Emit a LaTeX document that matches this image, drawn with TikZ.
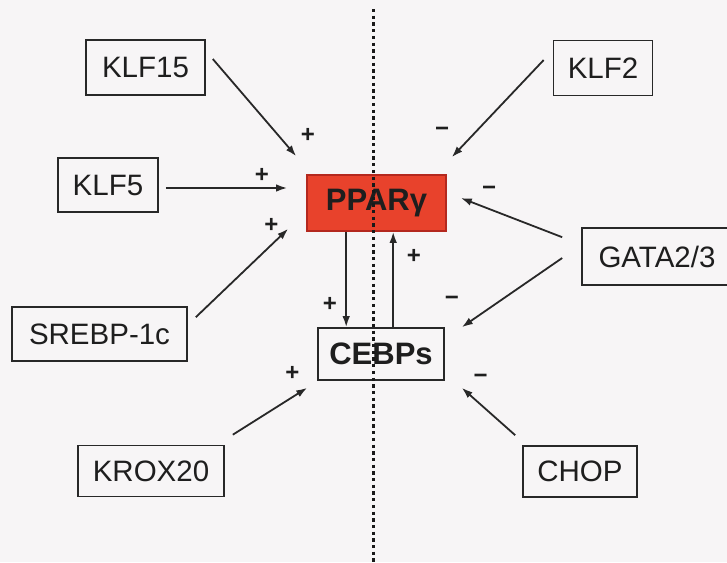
\documentclass[tikz,border=0pt]{standalone}
\usepackage{fontspec}
\setmainfont{Liberation Sans}
\usetikzlibrary{arrows.meta,calc}
\definecolor{bgc}{RGB}{247,245,246}
\definecolor{pparred}{RGB}{232,66,44}
\definecolor{pparedge}{RGB}{180,40,30}
\definecolor{ink}{RGB}{40,40,40}
\definecolor{txt}{RGB}{30,30,30}
\begin{document}
\begin{tikzpicture}[x=1pt,y=-1pt,
  box/.style={draw=ink, line width=1.6pt, inner sep=0pt, text=txt,
    font=\fontsize{29.5}{32}\selectfont},
  keybox/.style={box, font=\fontsize{31}{33}\selectfont\bfseries},
  arr/.style={draw=ink, line width=1.8pt, -{Latex[length=11pt,width=7.5pt]}},
  sign/.style={inner sep=0pt, text=txt, font=\fontsize{24}{26}\selectfont\bfseries},
  dotline/.style={draw=black!90, line width=3.3pt, dash pattern=on 3.3pt off 3.4pt}]
\useasboundingbox[fill=bgc] (0,0) rectangle (727,562);

% nodes
\node[box, minimum width=119pt, minimum height=55pt] (klf15) at (145.5,67.5) {KLF15};
\node[box, minimum width=99pt, minimum height=55pt] (klf2) at (603,68) {KLF2};
\node[box, minimum width=100pt, minimum height=54pt] (klf5) at (108,185) {KLF5};
\node[keybox, fill=pparred, draw=pparedge, minimum width=139pt, minimum height=56pt] (ppar) at (376.5,203) {PPARγ};
\node[box, minimum width=150pt, minimum height=57pt] (gata) at (657,256.5) {GATA2/3};
\node[box, minimum width=175pt, minimum height=54pt] (srebp) at (99.5,334) {SREBP-1c};
\node[keybox, minimum width=126pt, minimum height=52pt] (cebp) at (381,354) {CEBPs};
\node[box, minimum width=146pt, minimum height=51pt] (krox) at (151,471) {KROX20};
\node[box, minimum width=114pt, minimum height=51pt] (chop) at (580,471.5) {CHOP};

% connectors
\draw[arr] ($(klf15.east)+(7,-8.5)$) -- ($(ppar.north west)+(-10,-18)$);
\draw[arr] ($(klf2.west)+(-9,-8)$) -- ($(ppar.north east)+(5,-17)$);
\draw[arr] ($(klf5.east)+(7,3)$) -- ($(ppar.west)+(-19,-15)$);
\draw[arr] ($(srebp.north east)+(8,11)$) -- ($(ppar.south west)+(-18,-3)$);
\draw[arr] ($(gata.north west)+(-19,10)$) -- ($(ppar.east)+(14,-5)$);
\draw[arr] ($(gata.west)+(-19,1.5)$) -- ($(cebp.north east)+(17,0)$);
\draw[arr] ($(ppar.south west)+(40,0)$) -- ($(cebp.north west)+(29,0)$);
\draw[arr] ($(cebp.north west)+(76,0)$) -- ($(ppar.south west)+(87,0)$);
\draw[arr] ($(krox.north east)+(8,-10)$) -- ($(cebp.south west)+(-10,7)$);
\draw[arr] ($(chop.north west)+(-7,-10)$) -- ($(cebp.south east)+(17,7)$);

% signs
\node[sign] (s1) at (308,135) {+};
\node[sign] (s2) at (442,132) {−};
\node[sign] (s3) at (262,175) {+};
\node[sign] (s4) at (489,191) {−};
\node[sign] (s5) at (271.5,225) {+};
\node[sign] (s6) at (414,256) {+};
\node[sign] (s7) at (330,304) {+};
\node[sign] (s8) at (452,301) {−};
\node[sign] (s9) at (292.5,373) {+};
\node[sign] (s10) at (480.5,379) {−};

% dotted divider
\coordinate (dtop) at (373.3,9);
\coordinate (dbot) at (373.3,562);
\draw[dotline] (dtop) -- (dbot);
\end{tikzpicture}
\end{document}
